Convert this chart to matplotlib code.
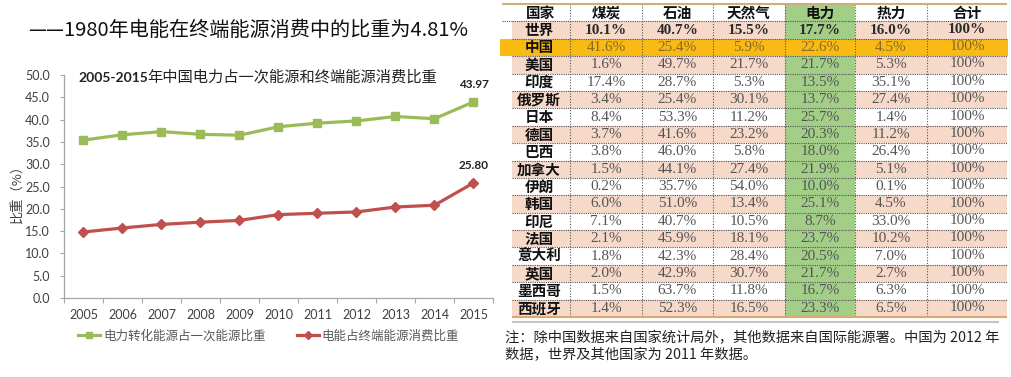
import matplotlib
matplotlib.use("Agg")
import matplotlib.pyplot as plt
import numpy as np
from matplotlib.lines import Line2D

# line chart data
years = [2005, 2006, 2007, 2008, 2009, 2010, 2011, 2012, 2013, 2014, 2015]
primary_share = [35.4, 36.6, 37.3, 36.7, 36.5, 38.4, 39.2, 39.7, 40.7, 40.2, 43.97]
final_share = [14.8, 15.7, 16.5, 17.0, 17.4, 18.7, 19.0, 19.3, 20.4, 20.8, 25.80]
series_names = ["电力转化能源占一次能源比重", "电能占终端能源消费比重"]

# table data
columns = ["国家", "煤炭", "石油", "天然气", "电力", "热力", "合计"]
countries = ["世界", "中国", "美国", "印度", "俄罗斯", "日本", "德国", "巴西", "加拿大",
             "伊朗", "韩国", "印尼", "法国", "意大利", "英国", "墨西哥", "西班牙"]
coal = [10.1, 41.6, 1.6, 17.4, 3.4, 8.4, 3.7, 3.8, 1.5, 0.2, 6.0, 7.1, 2.1, 1.8, 2.0, 1.5, 1.4]
oil = [40.7, 25.4, 49.7, 28.7, 25.4, 53.3, 41.6, 46.0, 44.1, 35.7, 51.0, 40.7, 45.9, 42.3, 42.9, 63.7, 52.3]
gas = [15.5, 5.9, 21.7, 5.3, 30.1, 11.2, 23.2, 5.8, 27.4, 54.0, 13.4, 10.5, 18.1, 28.4, 30.7, 11.8, 16.5]
power = [17.7, 22.6, 21.7, 13.5, 13.7, 25.7, 20.3, 18.0, 21.9, 10.0, 25.1, 8.7, 23.7, 20.5, 21.7, 16.7, 23.3]
heat = [16.0, 4.5, 5.3, 35.1, 27.4, 1.4, 11.2, 26.4, 5.1, 0.1, 4.5, 33.0, 10.2, 7.0, 2.7, 6.3, 6.5]
total = [100] * len(countries)

main_title = "——1980年电能在终端能源消费中的比重为4.81%"
chart_title_num = "2005-2015"
chart_title_txt = "年中国电力占一次能源和终端能源消费比重"
note_lines = ["注：除中国数据来自国家统计局外，其他数据来自国际能源署。中国为 2012 年",
              "数据，世界及其他国家为 2011 年数据。"]

CJK = ["Noto Sans CJK SC", "DejaVu Sans"]
SERIF = ["Liberation Serif", "DejaVu Serif"]
plt.rcParams["font.family"] = ["Lato", "Noto Sans CJK SC", "DejaVu Sans"]

W, H = 1012, 377
fig = plt.figure(figsize=(W / 100, H / 100), dpi=100)


def px(x0, y0, x1, y1):
    return [x0 / W, 1 - y1 / H, (x1 - x0) / W, (y1 - y0) / H]


GREEN = "#9BBB59"
RED = "#C0504D"
AXIS = "#A6A6A6"
TXT = "#404040"

fig.text(28 / W, 1 - 35.5 / H, main_title, family=CJK, fontsize=14.5, va="baseline", color="#111111")

# ---- line chart ----
ax = fig.add_axes(px(64, 75, 493, 298))
x = np.arange(len(years))
ax.plot(x, primary_share, color=GREEN, lw=2.3, marker="s", ms=6)
ax.plot(x, final_share, color=RED, lw=2.3, marker="D", ms=5.5)
ax.set_xlim(-0.5, len(years) - 0.5)
ax.set_ylim(0, 50)
yt = np.arange(0, 50.1, 5)
ax.set_yticks(yt)
ax.set_yticklabels([f"{v:.1f}" for v in yt])
ax.set_xticks(np.arange(-0.5, len(years), 1))
ax.set_xticklabels([])
ax.set_xticks(x, minor=True)
ax.set_xticklabels([str(y) for y in years], minor=True)
ax.tick_params(axis="x", which="minor", length=0, pad=8, labelsize=9, labelcolor=TXT)
ax.tick_params(axis="x", which="major", length=3.5, color=AXIS)
ax.tick_params(axis="y", length=3, color=AXIS, pad=7, labelsize=9, labelcolor=TXT)
for s in ["top", "right"]:
    ax.spines[s].set_visible(False)
for s in ["left", "bottom"]:
    ax.spines[s].set_color(AXIS)
    ax.spines[s].set_linewidth(0.9)

for vals in (primary_share, final_share):
    ax.annotate(f"{vals[-1]:.2f}", (x[-1], vals[-1]), xytext=(0, 12.5), textcoords="offset points",
                ha="center", va="center", fontsize=8.5, fontweight="bold", color="#222222",
                annotation_clip=False)

fig.text(17 / W, 1 - 190 / H, "比重（%）", family=CJK, fontsize=9.5, rotation=90,
         ha="center", va="center", color=TXT)

t1 = fig.text(78 / W, 1 - 82 / H, chart_title_num, fontsize=10, fontweight="bold",
              va="baseline", color="#222222")
ax.annotate(chart_title_txt, xy=(1, 1 - 82 / H), xycoords=(t1, fig.transFigure),
            family=CJK, fontsize=11, va="baseline", ha="left", color="#222222")

handles = [Line2D([], [], color=GREEN, lw=2.3, marker="s", ms=5),
           Line2D([], [], color=RED, lw=2.3, marker="D", ms=4.5)]
fig.legend(handles, series_names, loc="center left", bbox_to_anchor=(78 / W, 1 - 336 / H),
           ncol=2, frameon=False, prop={"family": CJK, "size": 9}, labelcolor="#595959",
           handlelength=1.8, handletextpad=0.2, columnspacing=2.5, borderpad=0, borderaxespad=0)

# ---- table ----
tab = fig.add_axes(px(512, 4, 1007, 317))
col_w = np.array([58, 72, 71, 72, 70, 72, 80])
lefts = np.concatenate([[0], np.cumsum(col_w)[:-1]])
TW = col_w.sum()
n_rows = len(countries) + 1
tab.set_xlim(0, TW)
tab.set_ylim(n_rows, 0)
tab.axis("off")

PINK = "#F7D9CA"
ORANGE = "#F9BA14"
LGREEN = "#A3CE88"
power_col = columns.index("电力")

table_vals = [coal, oil, gas, power, heat]
for r in range(n_rows):
    if r == 0:
        base = "white"
    elif r == 2:
        base = ORANGE
    elif r % 2 == 1:
        base = PINK
    else:
        base = "white"
    colors = [base] * len(columns)
    if r != 2:
        colors[power_col] = LGREEN
    if r == 2:
        tab.bar(-12, 1, width=TW + 13, bottom=r, align="edge", color=ORANGE, clip_on=False, zorder=0)
    tab.bar(lefts, 1, width=col_w, bottom=r, align="edge", color=colors, zorder=0.5)

for c, name in enumerate(columns):
    tab.text(lefts[c] + col_w[c] / 2, 0.5, name, family=CJK, fontsize=10.5, fontweight="bold",
             ha="center", va="center", color="#111111")

for i, name in enumerate(countries):
    r = i + 1
    tab.text(lefts[0] + col_w[0] / 2 - 2, r + 0.5, name, family=CJK, fontsize=10.5, fontweight="bold",
             ha="center", va="center", color="#111111")
    if i == 0:
        vc, vw = "#2B2B2B", "bold"
    elif i == 1:
        vc, vw = "#86682A", "normal"
    else:
        vc, vw = "#555555", "normal"
    for k, series in enumerate(table_vals):
        c = k + 1
        tab.text(lefts[c] + col_w[c] / 2, r + 0.5, f"{series[i]:.1f}%", family=SERIF, fontsize=11,
                 fontweight=vw, ha="center", va="center", color=vc)
    tab.text(lefts[6] + col_w[6] / 2, r + 0.45, f"{total[i]}%", family=SERIF, fontsize=11,
             fontweight=vw, ha="center", va="center", color=vc)

tab.hlines(np.arange(1, n_rows), 0, TW, colors="#555555", linestyles=(0, (1, 1)), lw=0.8, zorder=2)
tab.hlines(1, -10, 0, colors="#555555", linestyles=(0, (1, 1)), lw=0.8, zorder=2, clip_on=False)
tab.vlines(lefts[1:], 0, n_rows, colors="#555555", linestyles=(0, (1, 1.5)), lw=0.8, zorder=2)
tab.hlines(0, -10, TW, colors="#C9B07E", lw=1.5, zorder=3, clip_on=False)
tab.hlines(n_rows, 0, TW, colors="#E0A870", lw=1.5, zorder=3, clip_on=False)
tab.hlines(n_rows + 0.3, 0, TW - 8, colors="#C4C4C4", lw=1.5, zorder=3, clip_on=False)

for j, line in enumerate(note_lines):
    fig.text(505 / W, 1 - (338 + 17 * j) / H, line, family=CJK, fontsize=10.3,
             ha="left", va="center", color="#222222")

fig.savefig("out.png", dpi=100)
